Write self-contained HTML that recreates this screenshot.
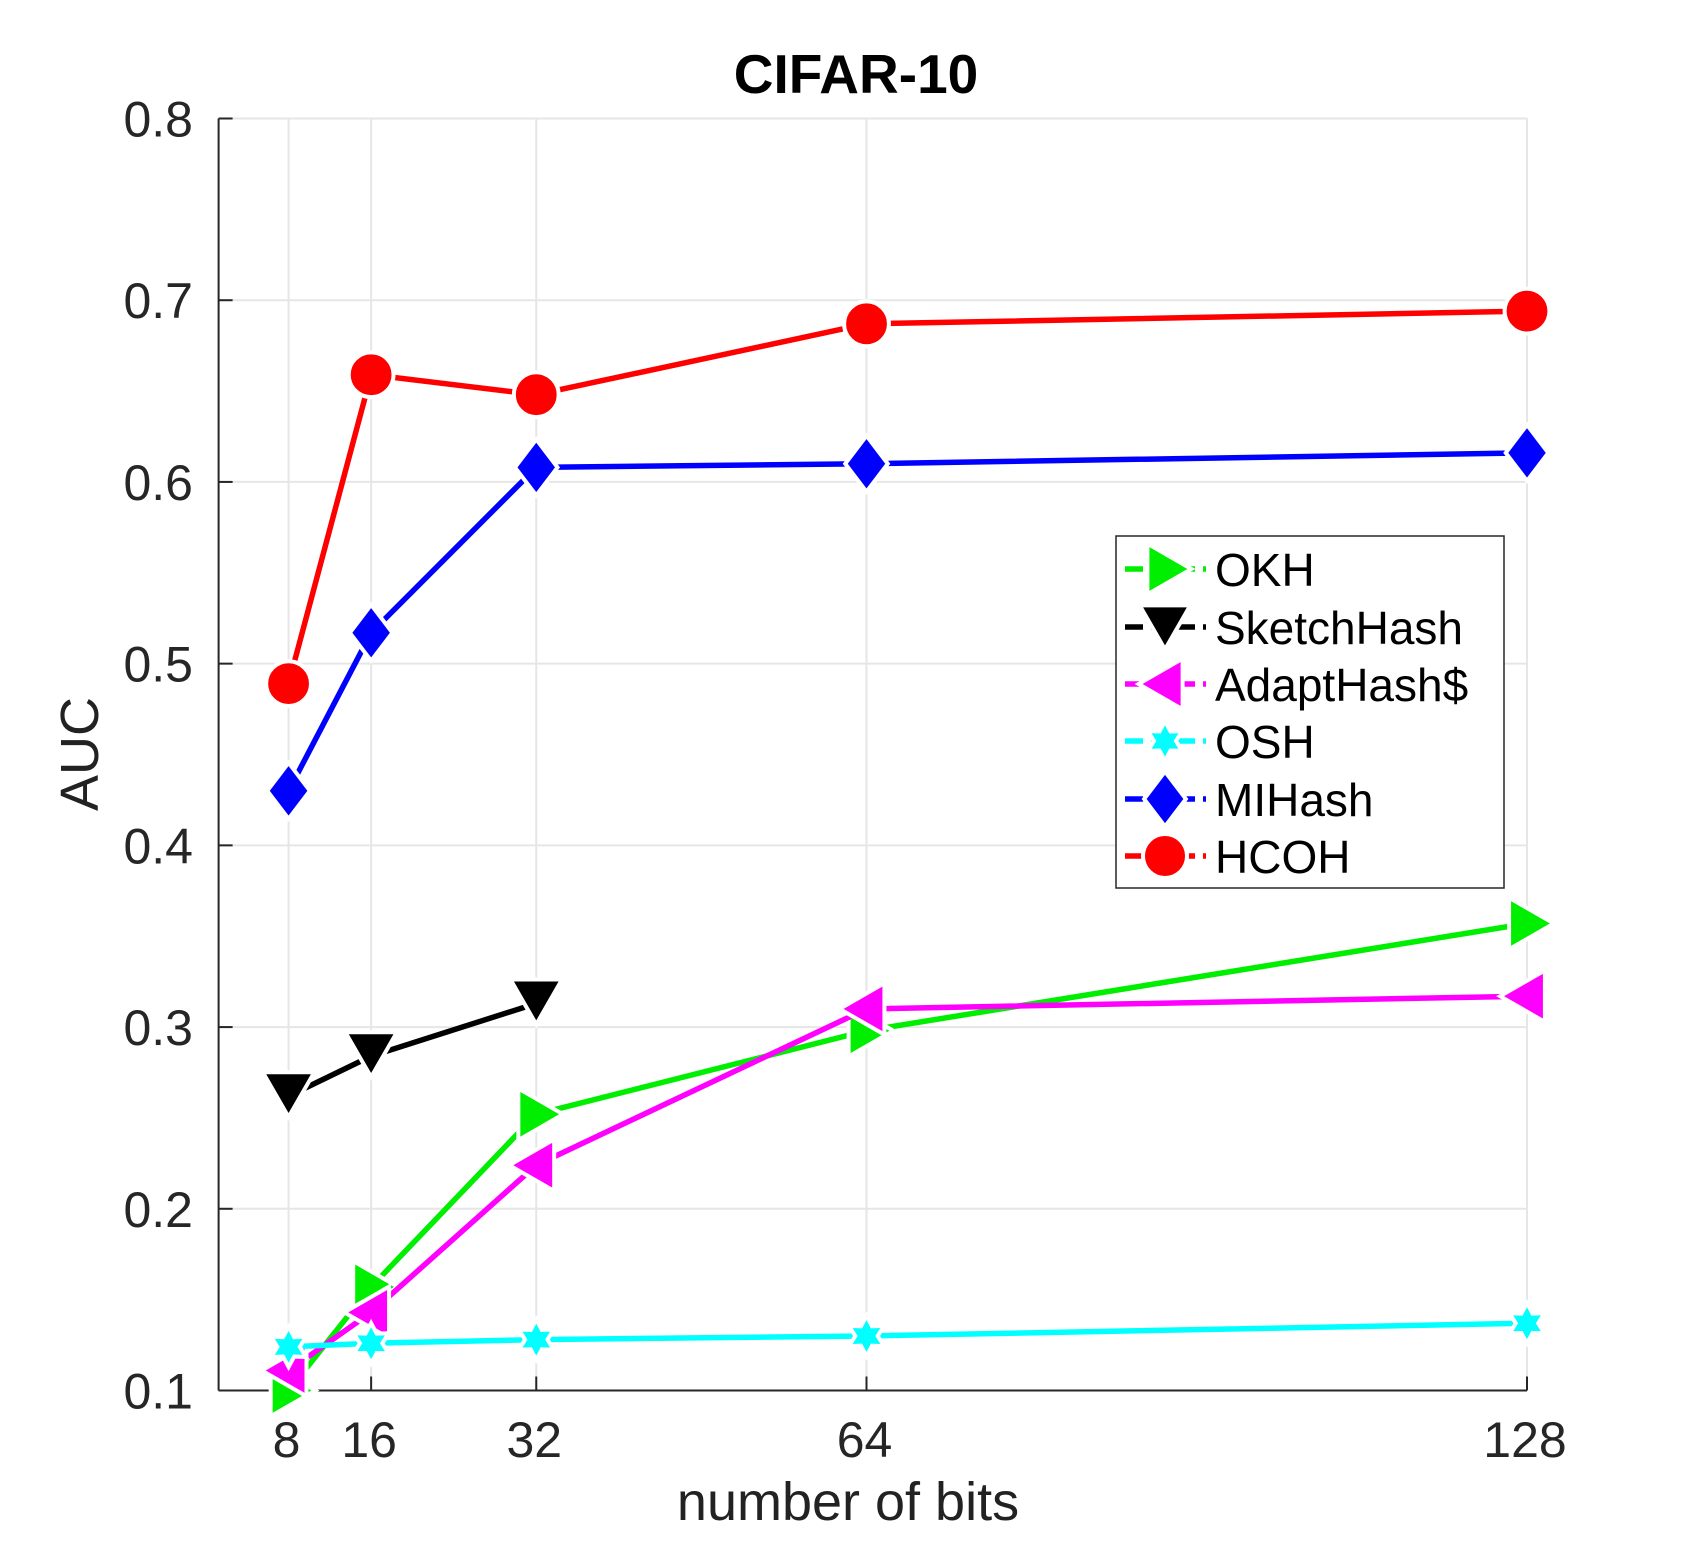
<!DOCTYPE html>
<html><head><meta charset="utf-8"><style>
html,body{margin:0;padding:0;background:#fff;}
svg{display:block;font-family:"Liberation Sans",Arial,sans-serif;}
</style></head><body>
<svg id="chart" width="1689" height="1564" viewBox="0 0 1689 1564" xmlns="http://www.w3.org/2000/svg">
<rect width="1689" height="1564" fill="#fff"/>
<text x="856" y="93" text-anchor="middle" font-size="55" font-weight="bold" fill="#000">CIFAR-10</text>
<g id="grid"></g>
<g id="axes"></g>
<g id="series"></g>
<text transform="translate(98,754) rotate(-90)" text-anchor="middle" font-size="54" fill="#222">AUC</text>
<text x="848" y="1520" text-anchor="middle" font-size="54" fill="#222">number of bits</text>
<g id="legend"></g>
</svg>
<script>
const bits = [8, 16, 32, 64, 128];
const yTicks = [0.1, 0.2, 0.3, 0.4, 0.5, 0.6, 0.7, 0.8];
const yTickLabels = ["0.1","0.2","0.3","0.4","0.5","0.6","0.7","0.8"];
const xTickLabels = ["8","16","32","64","128"];
const seriesNames = ["OKH","SketchHash","AdaptHash$","OSH","MIHash","HCOH"];
const okh = [0.100, 0.157, 0.252, 0.298, 0.357];
const sketchHash = [0.262, 0.284, 0.313, null, null];
const adaptHash = [0.111, 0.143, 0.224, 0.310, 0.317];
const osh = [0.124, 0.126, 0.128, 0.130, 0.137];
const miHash = [0.430, 0.517, 0.608, 0.610, 0.616];
const hcoh = [0.489, 0.659, 0.648, 0.687, 0.694];

const NS = "http://www.w3.org/2000/svg";
const L = 218.6, R = 1527, T = 118.5, B = 1390.5;
const xMin = 1.22, xMax = 128, yMin = 0.1, yMax = 0.8;
function xs(b){ return L + (b - xMin) / (xMax - xMin) * (R - L); }
function ys(v){ return B - (v - yMin) / (yMax - yMin) * (B - T); }
function mk(tag, attrs, parent){ const e = document.createElementNS(NS, tag); for (const k in attrs) e.setAttribute(k, attrs[k]); parent.appendChild(e); return e; }

const grid = document.getElementById('grid');
const axes = document.getElementById('axes');
yTicks.forEach((v, i) => {
  const g = mk('line', {x1:L, x2:R, y1:ys(v), y2:ys(v), stroke:'#e6e6e6', 'stroke-width':2}, grid);
  
  
  const t = mk('line', {x1:L, x2:L+14, y1:ys(v), y2:ys(v), stroke:'#262626', 'stroke-width':2}, axes);
  
  
  const lab = mk('text', {x:193, y:ys(v)+18, 'text-anchor':'end', 'font-size':50, fill:'#262626'}, axes);
  lab.textContent = yTickLabels[i];
  
  
});
bits.forEach((b, i) => {
  const g = mk('line', {x1:xs(b), x2:xs(b), y1:T, y2:B, stroke:'#e6e6e6', 'stroke-width':2}, grid);
  
  
  const t = mk('line', {x1:xs(b), x2:xs(b), y1:B, y2:B-14, stroke:'#262626', 'stroke-width':2}, axes);
  
  
  const lab = mk('text', {x:xs(b)-2, y:1457, 'text-anchor':'middle', 'font-size':50, fill:'#262626'}, axes);
  lab.textContent = xTickLabels[i];
  
  
});
const ax1 = mk('line', {x1:L, x2:L, y1:T, y2:B, stroke:'#262626', 'stroke-width':2}, axes);


const ax2 = mk('line', {x1:L, x2:R, y1:B, y2:B, stroke:'#262626', 'stroke-width':2}, axes);



function marker(type, cx, cy, color, parent, s){
  s = s || 1.12;
  let e;
  const a = {fill:color, stroke:'#fff', 'stroke-width':4};
  if (type === 'right') { a.points = `${cx+24*s},${cy} ${cx-16*s},${cy-23*s} ${cx-16*s},${cy+23*s}`; e = mk('polygon', a, parent); }
  else if (type === 'left') { a.points = `${cx-24*s},${cy} ${cx+16*s},${cy-23*s} ${cx+16*s},${cy+23*s}`; e = mk('polygon', a, parent); }
  else if (type === 'down') { a.points = `${cx},${cy+24*s} ${cx-23*s},${cy-16*s} ${cx+23*s},${cy-16*s}`; e = mk('polygon', a, parent); }
  else if (type === 'diamond') { a.points = `${cx},${cy-25*s} ${cx+19*s},${cy} ${cx},${cy+25*s} ${cx-19*s},${cy}`; e = mk('polygon', a, parent); }
  else if (type === 'circle') { a.cx = cx; a.cy = cy; a.r = 20*s; e = mk('circle', a, parent); }
  else if (type === 'star') {
    const r1 = 18*s, r2 = 10*s; let pts = [];
    for (let k = 0; k < 12; k++) { const ang = -Math.PI/2 + k*Math.PI/6; const r = k%2 ? r2 : r1; pts.push((cx + r*Math.cos(ang)).toFixed(1)+','+(cy + r*Math.sin(ang)).toFixed(1)); }
    a.points = pts.join(' '); e = mk('polygon', a, parent);
  }
  return e;
}

const seriesDefs = [
  {vals: okh, color:'#00ee00', m:'right', dy:0},
  {vals: sketchHash, color:'#000000', m:'down', dy:-6},
  {vals: adaptHash, color:'#ff00ff', m:'left', dy:0},
  {vals: osh, color:'#00ffff', m:'star', dy:0},
  {vals: miHash, color:'#0000ff', m:'diamond', dy:0},
  {vals: hcoh, color:'#ff0000', m:'circle', dy:0}
];
const sg = document.getElementById('series');
seriesDefs.forEach((sd, si) => {
  const g = mk('g', {}, sg);
  
  
  const pts = [];
  sd.vals.forEach((v, i) => { if (v !== null) pts.push([xs(bits[i]), ys(v)]); });
  const line = mk('polyline', {points: pts.map(p => p.join(',')).join(' '), fill:'none', stroke:sd.color, 'stroke-width':5.5, 'stroke-linejoin':'round'}, g);
  
  
  pts.forEach(p => {
    const e = marker(sd.m, p[0], p[1] + sd.dy, sd.color, g);
    
    
  });
});

const lg = document.getElementById('legend');
const box = mk('rect', {x:1116, y:536, width:388, height:352, fill:'#fff', stroke:'#262626', 'stroke-width':1.5}, lg);


const rowY = [569, 627, 684, 741, 799, 856];
seriesDefs.forEach((sd, si) => {
  const y = rowY[si];
  const g = mk('g', {}, lg);
  
  
  mk('line', {x1:1125, x2:1206, y1:y, y2:y, stroke:sd.color, 'stroke-width':5.5, 'stroke-dasharray':'18,8'}, g);
  marker(sd.m, 1165, y + (sd.m === 'down' ? -4 : 0), sd.color, g, 1.1);
  const t = mk('text', {x:1215, y:y+17, 'font-size':46, fill:'#000'}, g);
  t.textContent = seriesNames[si];
});
</script>
</body></html>
